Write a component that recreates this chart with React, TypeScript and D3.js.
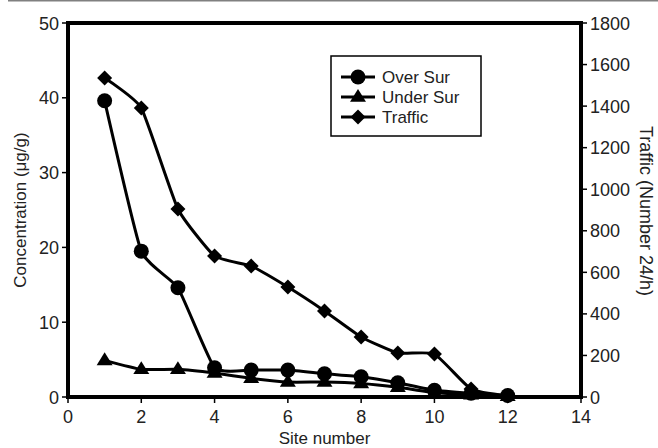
import React from "react";
import * as d3 from "d3";

const sites = [1, 2, 3, 4, 5, 6, 7, 8, 9, 10, 11, 12];
const overSur = [39.6, 19.5, 14.6, 3.9, 3.6, 3.6, 3.1, 2.7, 1.9, 0.9, 0.5, 0.2];
const underSur = [4.9, 3.7, 3.7, 3.2, 2.5, 2.0, 2.0, 1.8, 1.3, 0.6, 0.3, 0.1];
const traffic = [1535, 1391, 905, 679, 630, 529, 414, 289, 212, 207, 38, 5];
const xTicks = [0, 2, 4, 6, 8, 10, 12, 14];
const yLeftTicks = [0, 10, 20, 30, 40, 50];
const yRightTicks = [0, 200, 400, 600, 800, 1000, 1200, 1400, 1600, 1800];
const legendLabels = ["Over Sur", "Under Sur", "Traffic"];

const W = 658, H = 448;
const L = 68, R = 581, T = 23, B = 397;
const FONT = "'Liberation Sans', Arial, sans-serif";
const TXT = "#222";

function Marker({ kind, x, y }: { kind: string; x: number; y: number }) {
  if (kind === "circle") return <circle cx={x} cy={y} r={7.5} fill="#000" />;
  if (kind === "triangle") {
    const s = 8;
    return <path d={`M${x},${y - s}L${x + s},${y + s * 0.6}L${x - s},${y + s * 0.6}Z`} fill="#000" />;
  }
  const s = 7.5;
  return <path d={`M${x},${y - s}L${x + s},${y}L${x},${y + s}L${x - s},${y}Z`} fill="#000" />;
}

export default function App() {
  const x = d3.scaleLinear().domain([0, 14]).range([L, R]);
  const yL = d3.scaleLinear().domain([0, 50]).range([B, T]);
  const yR = d3.scaleLinear().domain([0, 1800]).range([B, T]);
  const line = d3.line<[number, number]>().curve(d3.curveCardinal.tension(0.55));

  const series = [
    { name: legendLabels[0], kind: "circle", pts: sites.map((s, i) => [x(s), yL(overSur[i])] as [number, number]) },
    { name: legendLabels[1], kind: "triangle", pts: sites.map((s, i) => [x(s), yL(underSur[i])] as [number, number]) },
    { name: legendLabels[2], kind: "diamond", pts: sites.map((s, i) => [x(s), yR(traffic[i])] as [number, number]) },
  ];

  return (
    <svg width={W} height={H} style={{ position: "absolute", left: 0, top: 0, background: "#fff" }} fontFamily={FONT}>
      <rect x={0} y={0} width={W} height={H} fill="#fff" />
      <line x1={8} x2={W} y1={0.5} y2={0.5} stroke="#808080" strokeWidth={2} />
      {series.map((s) => (
        <g key={s.name}>
          <path d={line(s.pts) || ""} fill="none" stroke="#000" strokeWidth={3} />
          {s.pts.map((p, i) => (
            <Marker key={i} kind={s.kind} x={p[0]} y={p[1]} />
          ))}
        </g>
      ))}
      <rect x={L} y={T} width={R - L} height={B - T} fill="none" stroke="#000" strokeWidth={4} />
      {xTicks.map((t) => (
        <g key={"x" + t}>
          <line x1={x(t)} x2={x(t)} y1={B} y2={B + 6} stroke="#000" strokeWidth={1.5} />
          <text x={x(t)} y={B + 26} textAnchor="middle" fontSize={18} fill={TXT}>{t}</text>
        </g>
      ))}
      {yLeftTicks.map((t) => (
        <g key={"l" + t}>
          <line x1={L - 6} x2={L} y1={yL(t)} y2={yL(t)} stroke="#000" strokeWidth={1.5} />
          <text x={L - 9} y={yL(t) + 6.5} textAnchor="end" fontSize={18} fill={TXT}>{t}</text>
        </g>
      ))}
      {yRightTicks.map((t) => (
        <g key={"r" + t}>
          <line x1={R} x2={R + 6} y1={yR(t)} y2={yR(t)} stroke="#000" strokeWidth={1.5} />
          <text x={R + 9} y={yR(t) + 6.5} textAnchor="start" fontSize={18} fill={TXT}>{t}</text>
        </g>
      ))}
      <text x={(L + R) / 2} y={444} textAnchor="middle" fontSize={17} fill={TXT}>Site number</text>
      <text transform={`translate(26,210) rotate(-90)`} textAnchor="middle" fontSize={17} fill={TXT}>Concentration (μg/g)</text>
      <text transform={`translate(640,211) rotate(90)`} textAnchor="middle" fontSize={18} fill={TXT}>Traffic (Number 24/h)</text>
      <rect x={331} y={56} width={150} height={80} fill="#fff" stroke="#000" strokeWidth={1.5} />
      {series.map((s, i) => {
        const cy = 77 + i * 20;
        return (
          <g key={"lg" + i}>
            <line x1={341} x2={375} y1={cy} y2={cy} stroke="#000" strokeWidth={3} />
            <Marker kind={s.kind} x={358} y={cy} />
            <text x={382} y={cy + 6} fontSize={17} fill={TXT}>{s.name}</text>
          </g>
        );
      })}
    </svg>
  );
}
